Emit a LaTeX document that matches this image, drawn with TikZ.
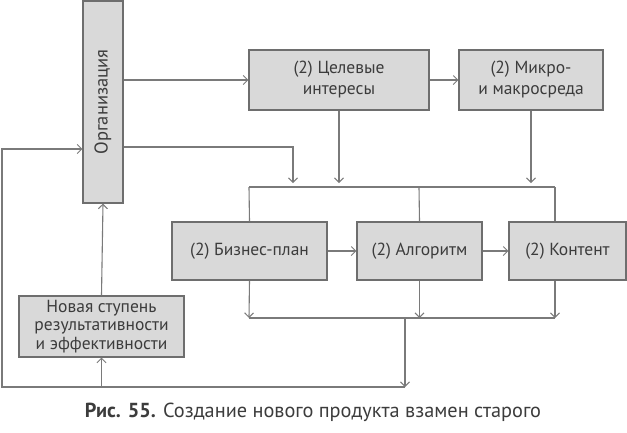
\documentclass[tikz,border=0pt]{standalone}
\usepackage{fontspec}
\setmainfont{PT Sans}
\usetikzlibrary{arrows.meta}
\definecolor{boxfill}{HTML}{D9D9D9}
\definecolor{boxline}{HTML}{6E6E6E}
\definecolor{conn}{HTML}{7A7A7A}
\definecolor{txt}{HTML}{3C3C3C}
\begin{document}
\begin{tikzpicture}[x=1pt,y=-1pt,
  blk/.style={draw=boxline,fill=boxfill,line width=1.1pt,inner sep=0pt,align=center,
    text=txt,font=\fontsize{17.5}{21}\selectfont},
  ln/.style={draw=conn,line width=1.1pt},
  arr/.style={ln,-{Straight Barb[length=4.5pt,width=9pt,line width=1pt]}}]
\useasboundingbox (0,0) rectangle (627,432);
\node[blk,minimum width=40pt,minimum height=202pt] (org) at (103,102) {\rotatebox{90}{\fontsize{18.5}{21}\selectfont Организация}};
\node[blk,minimum width=180pt,minimum height=60pt] (cel) at (339,80) {(2) Целевые\\интересы};
\node[blk,minimum width=144pt,minimum height=60pt] (mik) at (531,80) {(2) Микро-\\и макросреда};
\node[blk,minimum width=155pt,minimum height=58pt] (biz) at (249.5,251) {(2) Бизнес-план};
\node[blk,minimum width=125pt,minimum height=58pt] (alg) at (419.5,251) {(2) Алгоритм};
\node[blk,minimum width=117pt,minimum height=58pt] (kon) at (567.5,251) {(2) Контент};
\node[blk,minimum width=165pt,minimum height=61pt,font=\fontsize{17.5}{18.5}\selectfont] (nov) at (101.5,326.5) {Новая ступень\\результативности\\и эффективности};
\node[text=txt,font=\fontsize{20.3}{24}\selectfont] (cap) at (313,412) {\textbf{Рис. 55.} Создание нового продукта взамен старого};
% top connections
\draw[arr] (org.east |- cel.west) -- (cel.west);
\draw[arr] (cel.east) -- (mik.west);
\coordinate (tbl) at (249,187);
\coordinate (tbr) at (555,187);
\coordinate (tbm) at (419,187);
\coordinate (oj) at (293,183);
\draw[arr] (org.east |- 0,147) -| (oj);
\draw[arr] (cel.south) -- (cel.south |- oj);
\draw[arr] (mik.south) -- (mik.south |- oj);
\draw[ln] (tbl) -- (tbr);
\draw[ln] (tbl) -- (biz.north);
\draw[ln] (tbm) -- (alg.north);
\draw[ln] (tbr) -- (tbr |- kon.north);
% middle
\draw[arr] (biz.east) -- (alg.west);
\draw[arr] (alg.east) -- (kon.west);
% bottom
\coordinate (bbl) at (249,318);
\coordinate (bbr) at (555,318);
\coordinate (bbm) at (405,318);
\coordinate (lo) at (405,387);
\coordinate (ll) at (2,387);
\draw[arr] (biz.south) -- (bbl);
\draw[arr] (alg.south) -- (alg.south |- bbl);
\draw[arr] (bbr |- kon.south) -- (bbr);
\draw[ln] (bbl) -- (bbr);
\draw[arr] (bbm) -- (lo);
\draw[arr] (lo) -- (ll) -- (2,149) -- (org.west |- 0,149);
\draw[arr] (nov.south |- ll) -- (nov.south);
\draw[arr] (nov.north) -- (org.south);
\end{tikzpicture}
\end{document}
